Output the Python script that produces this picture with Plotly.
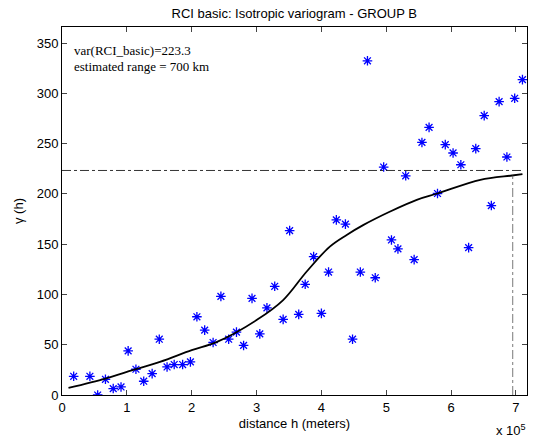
import plotly.graph_objects as go

# Experimental variogram points (distance in units of 1e5 m, gamma)
lag_x = [0.18, 0.43, 0.55, 0.67, 0.79, 0.91, 1.02, 1.14, 1.26, 1.39, 1.50, 1.62, 1.73, 1.86, 1.98,
         2.08, 2.20, 2.33, 2.45, 2.57, 2.69, 2.80, 2.93, 3.05, 3.16, 3.28, 3.41, 3.51, 3.65, 3.75,
         3.88, 4.00, 4.11, 4.23, 4.37, 4.48, 4.60, 4.71, 4.83, 4.96, 5.08, 5.18, 5.30, 5.43, 5.55,
         5.66, 5.79, 5.91, 6.03, 6.15, 6.27, 6.38, 6.51, 6.62, 6.74, 6.86, 6.98, 7.10]
gamma = [18.6, 18.6, 0.0, 15.6, 6.4, 8.0, 43.9, 25.6, 13.7, 21.3, 55.5, 27.9, 30.3, 30.3, 32.9,
         77.8, 64.5, 52.2, 98.1, 55.5, 62.5, 49.3, 96.1, 60.8, 86.7, 108.1, 75.2, 163.5, 80.2, 110.1,
         137.6, 81.2, 122.3, 174.2, 169.9, 55.5, 122.3, 332.4, 116.6, 226.7, 154.2, 145.3, 218.0, 134.6, 251.2,
         266.2, 200.4, 249.0, 240.7, 229.0, 146.6, 245.0, 277.9, 188.4, 291.8, 236.7, 295.1, 313.7]

# Fitted model curve
model_x = [0.10, 0.67, 1.00, 1.51, 2.00, 2.39, 3.00, 3.41, 3.77, 4.13, 4.39, 4.65, 5.06, 5.47, 5.79,
           6.45, 6.94, 7.10]
model_y = [7.0, 16.3, 23.0, 32.9, 44.6, 52.8, 74.5, 94.4, 122.6, 147.6, 159.2, 169.2, 182.5, 194.1, 200.4,
           214.0, 218.3, 219.7]

sill = 223.3
range_x = 6.95
range_y = 218.3
x_end = 7.10

scale = 1e5
x_ticks = [0, 1, 2, 3, 4, 5, 6, 7]
y_ticks = [0, 50, 100, 150, 200, 250, 300, 350]

fig = go.Figure()
fig.add_trace(go.Scatter(
    x=[v * scale for v in lag_x], y=gamma, mode="markers",
    marker=dict(symbol="asterisk-open", size=8, color="#0000ff",
                line=dict(color="#0000ff", width=1.3)),
    showlegend=False))
fig.add_trace(go.Scatter(
    x=[v * scale for v in model_x], y=model_y, mode="lines",
    line=dict(color="black", width=1.8, shape="spline", smoothing=1.0),
    showlegend=False))
fig.add_trace(go.Scatter(
    x=[0, x_end * scale], y=[sill, sill], mode="lines",
    line=dict(color="black", width=0.8, dash="dashdot"), showlegend=False))
fig.add_trace(go.Scatter(
    x=[range_x * scale, range_x * scale], y=[0, range_y], mode="lines",
    line=dict(color="#555555", width=0.8, dash="dashdot"), showlegend=False))

font_sans = "Liberation Sans, Arial, sans-serif"
font_serif = "Liberation Serif, Times New Roman, serif"

fig.update_layout(
    width=535, height=440,
    margin=dict(l=62, r=8, t=27, b=45),
    paper_bgcolor="white", plot_bgcolor="white",
    font=dict(family=font_sans, size=13, color="black"),
    title=dict(text="RCI basic: Isotropic variogram - GROUP B", x=0.55, xanchor="center",
               y=0.97, yanchor="middle", font=dict(family=font_sans, size=13, color="black")),
    xaxis=dict(range=[0, 7.17 * scale], tickvals=[t * scale for t in x_ticks],
               ticktext=[str(t) for t in x_ticks], ticks="inside", ticklen=5,
               showline=True, linecolor="black", linewidth=1, mirror="ticks",
               showgrid=False, zeroline=False, automargin=False,
               title=dict(text="distance h (meters)", standoff=5,
                          font=dict(family=font_sans, size=13))),
    yaxis=dict(range=[0, 366], tickvals=y_ticks, ticks="inside", ticklen=5,
               showline=True, linecolor="black", linewidth=1, mirror="ticks",
               showgrid=False, zeroline=False, automargin=False,
               title=dict(text="γ (h)", standoff=10, font=dict(family=font_sans, size=13))),
    annotations=[
        dict(text="var(RCI_basic)=223.3", x=0.022, y=0.935, xref="paper", yref="paper",
             xanchor="left", yanchor="middle", showarrow=False,
             font=dict(family=font_serif, size=13, color="black")),
        dict(text="estimated range = 700 km", x=0.022, y=0.894, xref="paper", yref="paper",
             xanchor="left", yanchor="middle", showarrow=False,
             font=dict(family=font_serif, size=13, color="black")),
        dict(text="x 10<sup>5</sup>", x=1.003, y=-0.094, xref="paper", yref="paper",
             xanchor="right", yanchor="middle", showarrow=False,
             font=dict(family=font_sans, size=13, color="black")),
    ],
)

fig.write_html("out.html", config={"displayModeBar": False},
               post_script="document.body.style.margin='0';")
